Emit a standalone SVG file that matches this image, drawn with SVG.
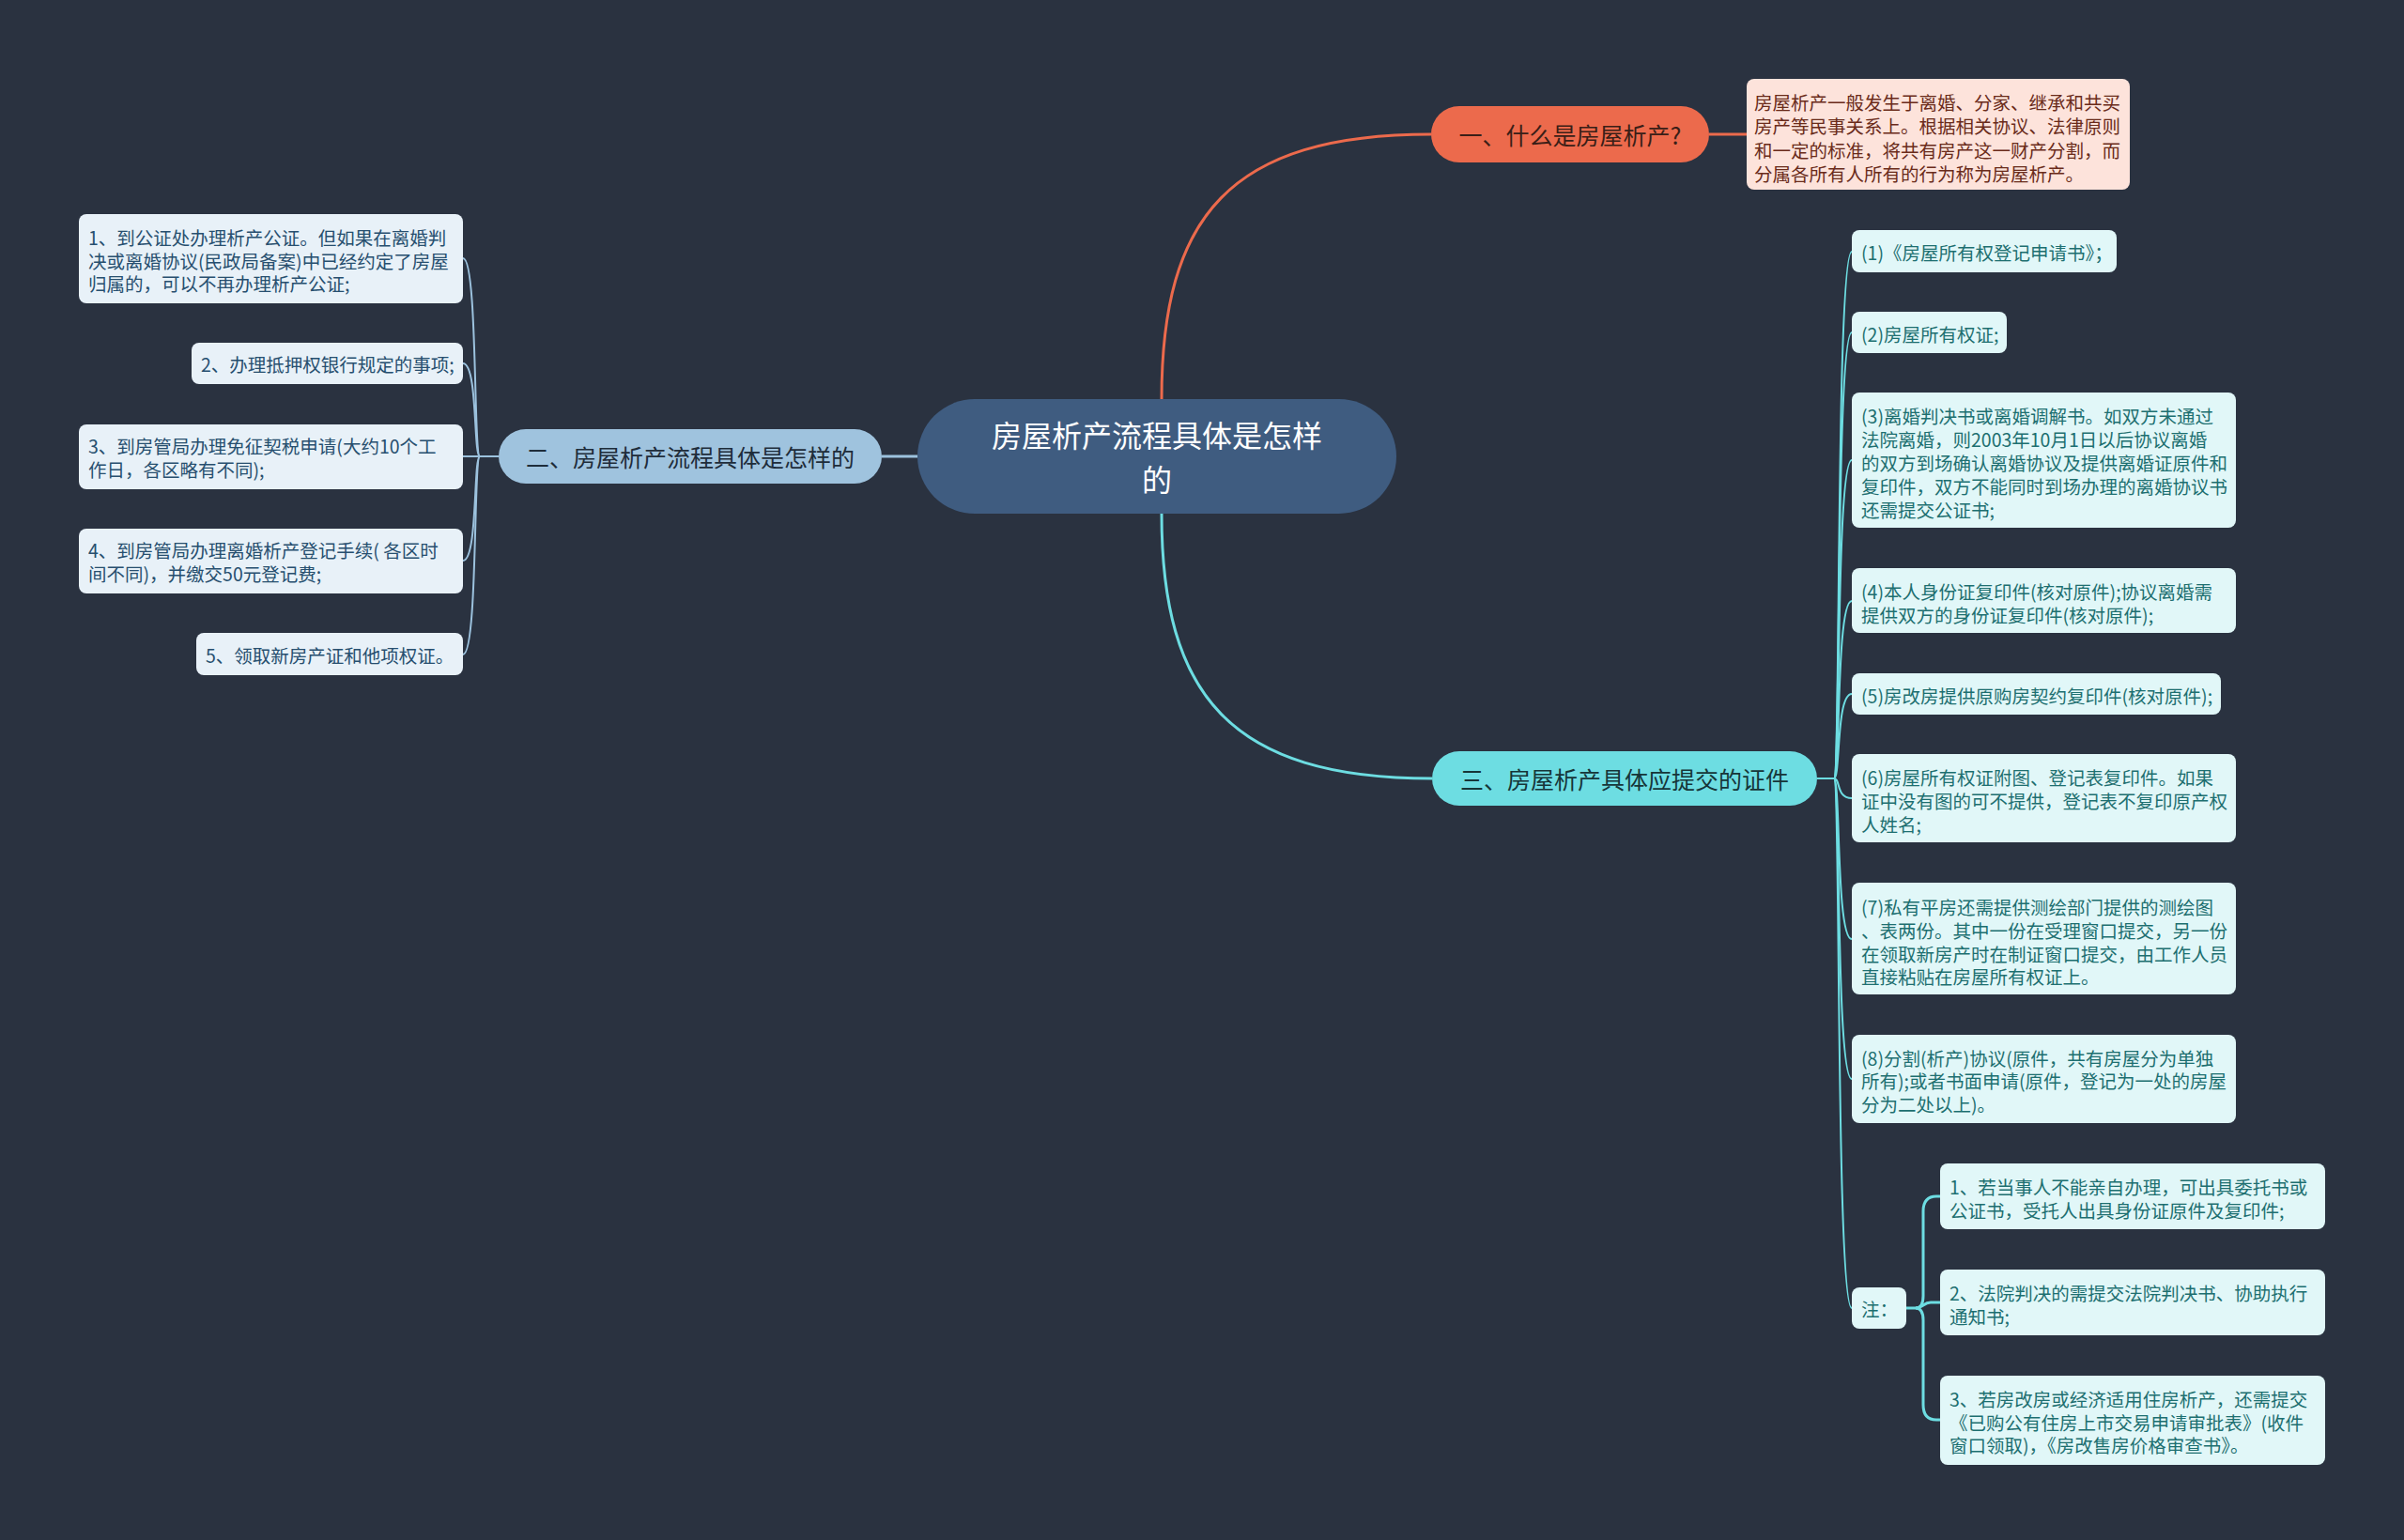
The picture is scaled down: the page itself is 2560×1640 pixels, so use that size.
<svg xmlns="http://www.w3.org/2000/svg" width="2560" height="1640" viewBox="0 0 2560 1640">
<style>
text{font-family:"Noto Sans CJK SC","Noto Sans",sans-serif;dominant-baseline:central}
.s{font-size:19.5px}
.lt{fill:#274f6f}
.rt{fill:#1d6f70}
.lb{fill:#e8f1f8}
.rb{fill:#e1f7f8}
.cl{fill:none;stroke:#9cc2de;stroke-width:2}
.cr{fill:none;stroke:#6ddde2;stroke-width:2}
.main{fill:none;stroke-width:3}
</style>
<rect x="0" y="0" width="2560" height="1640" fill="#2a3240"/>
<g id="connectors">
<path class="main" stroke="#ec6a4c" d="M1237 425 C1237 230 1310 143 1524 143"/>
<path class="main" stroke="#ec6a4c" d="M1820 143 H1860"/>
<path class="main" stroke="#9cc2de" d="M939 486 H977"/>
<path class="main" stroke="#6ddde2" d="M1237 547 C1237 740 1310 829 1525 829"/>
<path class="cl" d="M531 486 H511 C504 486 509 275 493 275"/>
<path class="cl" d="M531 486 H511 C504 486 509 387 493 387"/>
<path class="cl" d="M531 486 H493"/>
<path class="cl" d="M531 486 H511 C504 486 509 597 493 597"/>
<path class="cl" d="M531 486 H511 C504 486 509 697 493 697"/>
<path class="cr" d="M1935 829 H1953 C1960 829 1955 268 1972 268"/>
<path class="cr" d="M1935 829 H1953 C1960 829 1955 354 1972 354"/>
<path class="cr" d="M1935 829 H1953 C1960 829 1955 490 1972 490"/>
<path class="cr" d="M1935 829 H1953 C1960 829 1955 640 1972 640"/>
<path class="cr" d="M1935 829 H1953 C1960 829 1955 739 1972 739"/>
<path class="cr" d="M1935 829 H1953 C1960 829 1955 850 1972 850"/>
<path class="cr" d="M1935 829 H1953 C1960 829 1955 1000 1972 1000"/>
<path class="cr" d="M1935 829 H1953 C1960 829 1955 1149 1972 1149"/>
<path class="cr" d="M1935 829 H1953 C1960 829 1955 1393 1972 1393"/>
<path class="main" stroke="#6ddde2" d="M2030 1393 H2040 C2048 1393 2048 1387 2056 1387 H2066"/>
<path class="main" stroke="#6ddde2" d="M2040 1393 Q2048 1393 2048 1380 V1290 Q2048 1274 2062 1274 H2066"/>
<path class="main" stroke="#6ddde2" d="M2040 1393 Q2048 1393 2048 1406 V1496 Q2048 1512 2062 1512 H2066"/>
</g>
<g id="center">
<rect x="977" y="425" width="510" height="122" rx="61" fill="#3f5c80"/>
<text x="1232" y="462" font-size="32" fill="#ffffff" text-anchor="middle">房屋析产流程具体是怎样</text>
<text x="1232" y="509" font-size="32" fill="#ffffff" text-anchor="middle">的</text>
</g>
<g id="n1">
<rect x="1524" y="113" width="296" height="60" rx="30" fill="#ec6a4c"/>
<text x="1672" y="143" font-size="25" fill="#3a1e17" text-anchor="middle">一、什么是房屋析产?</text>
</g>
<g id="n1desc">
<rect x="1860" y="84" width="408" height="118" rx="8" fill="#fde3db"/>
<text class="s" fill="#6a2b1a" x="1868" y="108">房屋析产一般发生于离婚、分家、继承和共买</text>
<text class="s" fill="#6a2b1a" x="1868" y="133.5">房产等民事关系上。根据相关协议、法律原则</text>
<text class="s" fill="#6a2b1a" x="1868" y="159">和一定的标准，将共有房产这一财产分割，而</text>
<text class="s" fill="#6a2b1a" x="1868" y="184.5">分属各所有人所有的行为称为房屋析产。</text>
</g>
<g id="n2">
<rect x="531" y="457" width="408" height="58" rx="29" fill="#9fc3de"/>
<text x="735" y="486" font-size="25" fill="#1e2c3a" text-anchor="middle">二、房屋析产流程具体是怎样的</text>
</g>
<g id="n3">
<rect x="1525" y="800" width="410" height="58" rx="29" fill="#6ddde2"/>
<text x="1730" y="829" font-size="25" fill="#163538" text-anchor="middle">三、房屋析产具体应提交的证件</text>
</g>
<g id="l1">
<rect class="lb" x="84" y="228" width="409" height="95" rx="8"/>
<text class="s lt" x="94" y="252">1、到公证处办理析产公证。但如果在离婚判</text>
<text class="s lt" x="94" y="277">决或离婚协议(民政局备案)中已经约定了房屋</text>
<text class="s lt" x="94" y="301">归属的，可以不再办理析产公证;</text>
</g>
<g id="l2">
<rect class="lb" x="204" y="365" width="289" height="44" rx="8"/>
<text class="s lt" x="214" y="387">2、办理抵押权银行规定的事项;</text>
</g>
<g id="l3">
<rect class="lb" x="84" y="452" width="409" height="69" rx="8"/>
<text class="s lt" x="94" y="474">3、到房管局办理免征契税申请(大约10个工</text>
<text class="s lt" x="94" y="499">作日，各区略有不同);</text>
</g>
<g id="l4">
<rect class="lb" x="84" y="563" width="409" height="69" rx="8"/>
<text class="s lt" x="94" y="585">4、到房管局办理离婚析产登记手续( 各区时</text>
<text class="s lt" x="94" y="610">间不同)，并缴交50元登记费;</text>
</g>
<g id="l5">
<rect class="lb" x="209" y="674" width="284" height="45" rx="8"/>
<text class="s lt" x="219" y="697">5、领取新房产证和他项权证。</text>
</g>
<g id="r1">
<rect class="rb" x="1972" y="245" width="282" height="45" rx="8"/>
<text class="s rt" x="1982" y="268">(1)《房屋所有权登记申请书》；</text>
</g>
<g id="r2">
<rect class="rb" x="1972" y="332" width="165" height="44" rx="8"/>
<text class="s rt" x="1982" y="355">(2)房屋所有权证;</text>
</g>
<g id="r3">
<rect class="rb" x="1972" y="418" width="409" height="144" rx="8"/>
<text class="s rt" x="1982" y="442">(3)离婚判决书或离婚调解书。如双方未通过</text>
<text class="s rt" x="1982" y="467">法院离婚，则2003年10月1日以后协议离婚</text>
<text class="s rt" x="1982" y="492">的双方到场确认离婚协议及提供离婚证原件和</text>
<text class="s rt" x="1982" y="517">复印件，双方不能同时到场办理的离婚协议书</text>
<text class="s rt" x="1982" y="542">还需提交公证书;</text>
</g>
<g id="r4">
<rect class="rb" x="1972" y="605" width="409" height="69" rx="8"/>
<text class="s rt" x="1982" y="629">(4)本人身份证复印件(核对原件);协议离婚需</text>
<text class="s rt" x="1982" y="654">提供双方的身份证复印件(核对原件);</text>
</g>
<g id="r5">
<rect class="rb" x="1972" y="717" width="393" height="44" rx="8"/>
<text class="s rt" x="1982" y="740">(5)房改房提供原购房契约复印件(核对原件);</text>
</g>
<g id="r6">
<rect class="rb" x="1972" y="803" width="409" height="94" rx="8"/>
<text class="s rt" x="1982" y="827">(6)房屋所有权证附图、登记表复印件。如果</text>
<text class="s rt" x="1982" y="852">证中没有图的可不提供，登记表不复印原产权</text>
<text class="s rt" x="1982" y="877">人姓名;</text>
</g>
<g id="r7">
<rect class="rb" x="1972" y="940" width="409" height="119" rx="8"/>
<text class="s rt" x="1982" y="965">(7)私有平房还需提供测绘部门提供的测绘图</text>
<text class="s rt" x="1982" y="990">、表两份。其中一份在受理窗口提交，另一份</text>
<text class="s rt" x="1982" y="1015">在领取新房产时在制证窗口提交，由工作人员</text>
<text class="s rt" x="1982" y="1039">直接粘贴在房屋所有权证上。</text>
</g>
<g id="r8">
<rect class="rb" x="1972" y="1102" width="409" height="94" rx="8"/>
<text class="s rt" x="1982" y="1126">(8)分割(析产)协议(原件，共有房屋分为单独</text>
<text class="s rt" x="1982" y="1150">所有);或者书面申请(原件，登记为一处的房屋</text>
<text class="s rt" x="1982" y="1175">分为二处以上)。</text>
</g>
<g id="note">
<rect class="rb" x="1972" y="1371" width="58" height="44" rx="8"/>
<text class="s rt" x="1982" y="1393">注：</text>
</g>
<g id="note1">
<rect class="rb" x="2066" y="1239" width="410" height="70" rx="8"/>
<text class="s rt" x="2076" y="1263">1、若当事人不能亲自办理，可出具委托书或</text>
<text class="s rt" x="2076" y="1288">公证书，受托人出具身份证原件及复印件;</text>
</g>
<g id="note2">
<rect class="rb" x="2066" y="1352" width="410" height="70" rx="8"/>
<text class="s rt" x="2076" y="1376">2、法院判决的需提交法院判决书、协助执行</text>
<text class="s rt" x="2076" y="1401">通知书;</text>
</g>
<g id="note3">
<rect class="rb" x="2066" y="1465" width="410" height="95" rx="8"/>
<text class="s rt" x="2076" y="1489">3、若房改房或经济适用住房析产，还需提交</text>
<text class="s rt" x="2076" y="1514">《已购公有住房上市交易申请审批表》(收件</text>
<text class="s rt" x="2076" y="1538">窗口领取)，《房改售房价格审查书》。</text>
</g>
</svg>
